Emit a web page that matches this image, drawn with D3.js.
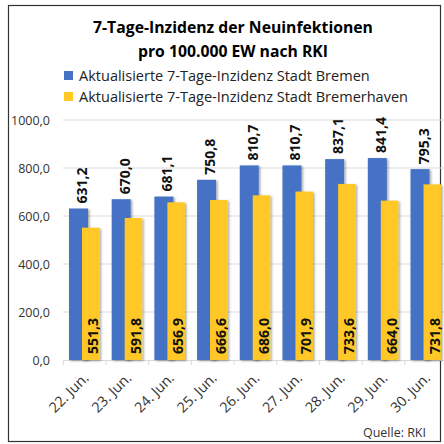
<!DOCTYPE html>
<html>
<head>
<meta charset="utf-8">
<script src="https://cdn.jsdelivr.net/npm/d3@7"></script>
<style>
  body { margin: 0; background: #fff; }
  svg { display: block; font-family: "Open Sans", sans-serif; }
</style>
</head>
<body>
<svg id="chart" width="444" height="444"></svg>
<script>
// data
var days = ["22. Jun.", "23. Jun.", "24. Jun.", "25. Jun.", "26. Jun.", "27. Jun.", "28. Jun.", "29. Jun.", "30. Jun."];
var bremen = [631.2, 670.0, 681.1, 750.8, 810.7, 810.7, 837.1, 841.4, 795.3];
var bremerhaven = [551.3, 591.8, 656.9, 666.6, 686.0, 701.9, 733.6, 664.0, 731.8];
var yTicks = [0, 200, 400, 600, 800, 1000];
var seriesNames = ["Aktualisierte 7-Tage-Inzidenz Stadt Bremen", "Aktualisierte 7-Tage-Inzidenz Stadt Bremerhaven"];

var blue = "#4472c4", yellow = "#ffc825";
var fmt = function(v) { return d3.format(".1f")(v).replace(".", ","); };

var svg = d3.select("#chart");

// scale a text group so one sample element gets the wanted width
function fitTo(all, sample, width) {
  var w = sample.node().getComputedTextLength();
  var fs = parseFloat(sample.attr("font-size"));
  all.attr("font-size", (fs * width / w).toFixed(2));
}

// shadow under the bars
var defs = svg.append("defs");
var f = defs.append("filter").attr("id", "shadow").attr("x", "-20%").attr("y", "-5%").attr("width", "150%").attr("height", "115%");
f.append("feDropShadow").attr("dx", 1.5).attr("dy", 1).attr("stdDeviation", 0.8).attr("flood-color", "#000").attr("flood-opacity", 0.35);

// outer frame
svg.append("rect").attr("x", 8.5).attr("y", 5.5).attr("width", 432).attr("height", 436)
  .attr("fill", "#fff").attr("stroke", "#333").attr("stroke-width", 1.2);

// title
var t1 = svg.append("text").attr("x", 233).attr("y", 33).attr("text-anchor", "middle")
  .attr("font-weight", "bold").attr("font-size", 16).attr("fill", "#000").text("7-Tage-Inzidenz der Neuinfektionen");
var t2 = svg.append("text").attr("x", 233).attr("y", 57).attr("text-anchor", "middle")
  .attr("font-weight", "bold").attr("font-size", 16).attr("fill", "#000").text("pro 100.000 EW nach RKI");
fitTo(svg.selectAll("text"), t1, 280);

// legend
var legend = svg.append("g");
[blue, yellow].forEach(function(c, i) {
  var g = legend.append("g").attr("transform", "translate(64," + (81 + i * 21) + ")");
  g.append("rect").attr("x", 0).attr("y", -10).attr("width", 9).attr("height", 9).attr("fill", c);
  g.append("text").attr("class", "leg").attr("x", 15).attr("y", 0).attr("font-size", 14).attr("fill", "#222").text(seriesNames[i]);
});
fitTo(legend.selectAll("text"), legend.selectAll("text").filter(function(d, i) { return i === 1; }), 329);

var x = d3.scaleBand().domain(days).range([63.3, 447.5]).paddingInner(0).paddingOuter(0);
var y = d3.scaleLinear().domain([0, 1000]).range([360, 120]);

// gridlines
svg.append("g").selectAll("line").data(yTicks.slice(1)).join("line")
  .attr("x1", 63).attr("x2", 448).attr("y1", function(d) { return y(d); }).attr("y2", function(d) { return y(d); })
  .attr("stroke", "#d9d9d9").attr("stroke-width", 1);

// y axis labels
var yAxis = svg.append("g").attr("transform", "translate(50,0)")
  .call(d3.axisLeft(y).tickValues(yTicks).tickFormat(fmt).tickSize(0).tickPadding(0));
yAxis.select(".domain").remove();
yAxis.selectAll("text").attr("font-size", 12).attr("fill", "#333").attr("font-family", "Open Sans, sans-serif");
fitTo(yAxis.selectAll("text"), yAxis.selectAll("text").filter(function(d) { return d === 1000; }), 39);

// x axis
var xAxis = svg.append("g").attr("transform", "translate(0,360)")
  .call(d3.axisBottom(x).tickSize(0).tickFormat(""));
xAxis.select(".domain").attr("stroke", "#d9d9d9");
var bounds = days.map(function(d) { return x(d); });
svg.append("g").selectAll("line").data(bounds).join("line")
  .attr("x1", function(d) { return d; }).attr("x2", function(d) { return d; })
  .attr("y1", 360).attr("y2", 365).attr("stroke", "#d9d9d9");
var xl = svg.append("g").selectAll("text").data(days).join("text")
  .attr("transform", function(d) { return "translate(" + (x(d) + x.bandwidth() / 2 + 5) + ",379) rotate(-45)"; })
  .attr("text-anchor", "end").attr("font-size", 12).attr("fill", "#333").text(function(d) { return d; });
fitTo(xl, d3.select(xl.nodes()[0]), 49);

// bars
var bw = 19;
var blueOff = 5.7, yellowOff = 18.7;
var bars = svg.append("g");
bars.selectAll(".b").data(days).join("rect").attr("class", "b")
  .attr("x", function(d) { return x(d) + blueOff; })
  .attr("y", function(d, i) { return y(bremen[i]); })
  .attr("width", bw).attr("height", function(d, i) { return y(0) - y(bremen[i]); })
  .attr("fill", blue).attr("filter", "url(#shadow)");
bars.selectAll(".y").data(days).join("rect").attr("class", "y")
  .attr("x", function(d) { return x(d) + yellowOff; })
  .attr("y", function(d, i) { return y(bremerhaven[i]); })
  .attr("width", bw - 1.5).attr("height", function(d, i) { return y(0) - y(bremerhaven[i]); })
  .attr("fill", yellow).attr("filter", "url(#shadow)");

// value labels
var vb = svg.append("g").selectAll("text").data(days).join("text")
  .attr("transform", function(d, i) { return "translate(" + (x(d) + blueOff + bw - 1) + "," + (y(bremen[i]) - 5) + ") rotate(-90)"; })
  .attr("font-size", 14).attr("font-weight", 700).attr("fill", "#111").text(function(d, i) { return fmt(bremen[i]); });
var vy = svg.append("g").selectAll("text").data(days).join("text")
  .attr("transform", function(d, i) { return "translate(" + (x(d) + yellowOff + bw - 3) + ",354) rotate(-90)"; })
  .attr("font-size", 14).attr("font-weight", 700).attr("fill", "#111").text(function(d, i) { return fmt(bremerhaven[i]); });
fitTo(vb.merge(vy), d3.select(vb.nodes()[0]), 36);

// source
var src = svg.append("text").attr("x", 426).attr("y", 437).attr("text-anchor", "end")
  .attr("font-size", 12).attr("fill", "#333").text("Quelle: RKI");
fitTo(src, src, 63);
</script>
</body>
</html>
